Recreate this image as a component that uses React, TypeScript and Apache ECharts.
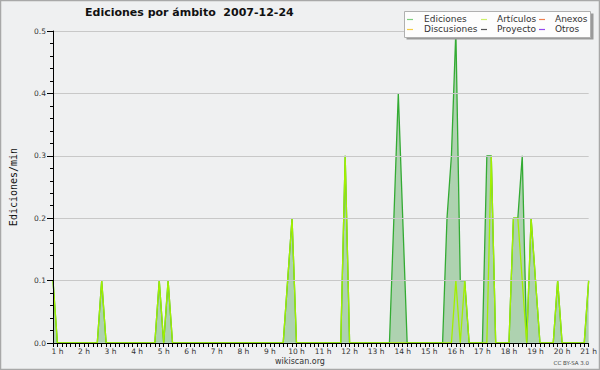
import React, { useEffect, useRef } from 'react';
import * as echarts from 'echarts';

const TITLE = 'Ediciones por ámbito  2007-12-24';
const Y_NAME = 'Ediciones/min';
const FOOTER_LEFT = 'wikiscan.org';
const FOOTER_RIGHT = 'CC BY-SA 3.0';

const edicionesTimes = [
  '0:50', '1:00', '2:30', '2:40', '2:50', '4:40', '4:50', '5:00', '5:10', '5:20',
  '9:30', '9:40', '9:50', '10:00', '11:40', '11:50', '12:00',
  '13:30', '13:40', '13:50', '14:00', '14:10',
  '15:30', '15:40', '15:50', '16:00', '16:10', '16:20', '16:30',
  '17:00', '17:10', '17:20', '17:30',
  '18:00', '18:10', '18:20', '18:30', '18:40', '18:50', '19:00', '19:10',
  '19:40', '19:50', '20:00', '20:50', '21:00',
];
const edicionesValues = [
  0.1, 0, 0, 0.1, 0, 0, 0.1, 0, 0.1, 0,
  0, 0.1, 0.2, 0, 0, 0.3, 0,
  0, 0.2, 0.4, 0.2, 0,
  0, 0.2, 0.3, 0.5, 0.1, 0.1, 0,
  0, 0.3, 0.3, 0,
  0, 0.2, 0.2, 0.3, 0, 0.2, 0.1, 0,
  0, 0.1, 0, 0, 0.1,
];

const articulosTimes = [
  '0:50', '1:00', '2:30', '2:40', '2:50', '4:40', '4:50', '5:00', '5:10', '5:20',
  '9:30', '9:40', '9:50', '10:00', '11:40', '11:50', '12:00',
  '15:50', '16:00', '16:10', '16:20', '16:30',
  '17:10', '17:20', '17:30',
  '18:00', '18:10', '18:20', '18:30', '18:40', '18:50', '19:00', '19:10',
  '19:40', '19:50', '20:00', '20:50', '21:00',
];
const articulosValues = [
  0.1, 0, 0, 0.1, 0, 0, 0.1, 0, 0.1, 0,
  0, 0.1, 0.2, 0, 0, 0.3, 0,
  0, 0.1, 0, 0.1, 0,
  0, 0.3, 0,
  0, 0.2, 0.2, 0.1, 0, 0.2, 0.1, 0,
  0, 0.1, 0, 0, 0.1,
];

const legendNames = ['Ediciones', 'Artículos', 'Anexos', 'Discusiones', 'Proyecto', 'Otros'];
const legendColors = ['#7fcf7f', '#cdf06a', '#f0804f', '#f5cd45', '#555555', '#9448ee'];

const X_MIN = '0:50';
const X_MAX = '21:00';

function toMin(t: string): number {
  const [h, m] = t.split(':').map(Number);
  return h * 60 + m;
}

const FONT = 'DejaVu Sans';

export default function App() {
  const ref = useRef<HTMLDivElement>(null);

  useEffect(() => {
    document.body.style.margin = '0';
    if (!ref.current) return;
    const chart = echarts.init(ref.current, undefined, { renderer: 'svg' });

    const edData = edicionesTimes.map((t, i) => [toMin(t), edicionesValues[i]]);
    const arData = articulosTimes.map((t, i) => [toMin(t), articulosValues[i]]);

    const colX = [407, 481, 539];
    const colTextX = [424, 497, 555];
    const rowY = [19, 29];
    const legendGraphics: any[] = [];
    legendNames.forEach((name, i) => {
      const c = i % 3;
      const r = Math.floor(i / 3);
      legendGraphics.push({
        type: 'line',
        shape: { x1: colX[c], y1: rowY[r] + 0.5, x2: colX[c] + 6, y2: rowY[r] + 0.5 },
        style: { stroke: legendColors[i], lineWidth: 1.2 },
        z: 11,
      });
      legendGraphics.push({
        type: 'text',
        style: {
          text: name,
          x: colTextX[c],
          y: rowY[r],
          fontSize: 9,
          fontFamily: FONT,
          fill: '#333',
          textAlign: 'left',
          textVerticalAlign: 'middle',
        },
        z: 11,
      });
    });

    chart.setOption({
      animation: false,
      backgroundColor: '#eff0f1',
      title: {
        text: TITLE,
        left: 80,
        top: 2,
        textStyle: { fontSize: 11, fontWeight: 'bold', fontFamily: FONT, color: '#111' },
      },
      grid: { left: 46, right: 11, top: 31, bottom: 27 },
      xAxis: {
        type: 'value',
        min: toMin(X_MIN),
        max: toMin(X_MAX),
        interval: 10,
        z: 5,
        axisLine: { lineStyle: { color: '#000', width: 1 } },
        axisTick: { show: true, length: 4, lineStyle: { color: '#000' } },
        axisLabel: {
          formatter: (v: number) => (v % 60 === 0 ? `${v / 60} h` : ''),
          fontSize: 7.5,
          fontFamily: FONT,
          color: '#333',
          margin: 4,
        },
        splitLine: { show: false },
      },
      yAxis: {
        type: 'value',
        min: 0,
        max: 0.5,
        interval: 0.1,
        name: Y_NAME,
        nameLocation: 'middle',
        nameGap: 35,
        nameTextStyle: { fontFamily: 'DejaVu Sans Mono', fontSize: 10, color: '#111' },
        z: 5,
        axisLine: { show: true, lineStyle: { color: '#000' } },
        axisTick: { show: true, length: 6, lineStyle: { color: '#000' } },
        minorTick: { show: true, splitNumber: 5, length: 3, lineStyle: { color: '#000' } },
        axisLabel: {
          formatter: (v: number) => v.toFixed(1),
          fontSize: 7.5,
          fontFamily: FONT,
          color: '#333',
          margin: 7,
        },
        splitLine: { show: true, lineStyle: { color: '#c8c8c8', width: 1 } },
      },
      series: [
        {
          name: 'Ediciones',
          type: 'line',
          data: edData,
          symbol: 'none',
          lineStyle: { color: '#33ab33', width: 1.3 },
          areaStyle: { color: 'rgba(55,155,55,0.5)' },
          z: 2,
        },
        {
          name: 'Artículos',
          type: 'line',
          data: arData,
          symbol: 'none',
          lineStyle: { color: '#a2f000', width: 1.3 },
          z: 3,
        },
      ],
      graphic: [
        {
          type: 'rect',
          shape: { x: 0.5, y: 0.5, width: 599, height: 369 },
          style: { fill: 'none', stroke: '#a8a8a8', lineWidth: 1.5 },
          z: 12,
        },
        {
          type: 'rect',
          shape: { x: 406.5, y: 13.5, width: 187, height: 26 },
          style: { fill: '#9a9a9a' },
          z: 10,
        },
        {
          type: 'rect',
          shape: { x: 404.5, y: 11.5, width: 186, height: 26 },
          style: { fill: '#fdfdfd', stroke: '#b0b0b0', lineWidth: 1 },
          z: 10,
        },
        ...legendGraphics,
        {
          type: 'text',
          style: {
            text: FOOTER_LEFT,
            x: 300,
            y: 361.5,
            fontSize: 8,
            fontFamily: FONT,
            fill: '#333',
            textAlign: 'center',
            textVerticalAlign: 'middle',
          },
        },
        {
          type: 'text',
          style: {
            text: FOOTER_RIGHT,
            x: 589,
            y: 362.5,
            fontSize: 5.5,
            fontFamily: FONT,
            fill: '#444',
            textAlign: 'right',
            textVerticalAlign: 'middle',
          },
        },
      ],
    });

    return () => chart.dispose();
  }, []);

  return <div ref={ref} style={{ width: 600, height: 370 }} />;
}
